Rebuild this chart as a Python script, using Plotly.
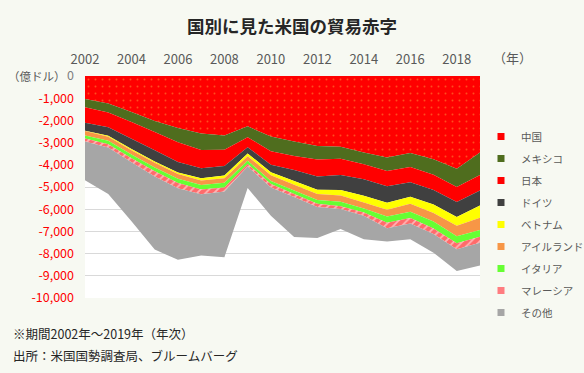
import plotly.graph_objects as go

years = list(range(2002, 2020))
names = ["中国", "メキシコ", "日本", "ドイツ", "ベトナム", "アイルランド", "イタリア", "マレーシア", "その他"]

china = [-1031, -1240, -1620, -2022, -2343, -2586, -2680, -2268, -2730, -2951, -3151, -3186, -3450, -3672, -3468, -3752, -4182, -3450]
mexico = [-374, -405, -455, -498, -645, -745, -645, -490, -663, -649, -614, -545, -530, -605, -631, -700, -815, -1014]
japan = [-700, -660, -753, -826, -881, -826, -726, -447, -603, -630, -763, -734, -671, -688, -689, -688, -676, -694]
germany = [-356, -390, -460, -508, -476, -447, -430, -282, -341, -503, -593, -674, -742, -748, -649, -644, -683, -672]
vietnam = [-21, -39, -52, -58, -75, -104, -125, -124, -129, -161, -197, -239, -300, -309, -320, -384, -395, -557]
ireland = [-194, -186, -196, -207, -213, -206, -200, -206, -260, -269, -268, -281, -270, -310, -360, -381, -467, -553]
italy = [-139, -151, -172, -175, -184, -204, -212, -145, -142, -156, -172, -207, -188, -283, -284, -318, -318, -301]
malaysia = [-138, -147, -178, -233, -240, -214, -180, -120, -149, -135, -139, -121, -142, -245, -247, -246, -265, -267]
others = [-1747, -2102, -2654, -3293, -3223, -2758, -2962, -958, -1283, -1796, -1403, -903, -1057, -590, -702, -847, -979, -1032]

series = [china, mexico, japan, germany, vietnam, ireland, italy, malaysia, others]
colors = ["#ff0000", "#4f6d1e", "#ff0000", "#404040", "#ffff00", "#f79646", "#66ff33", "#ff7c80", "#a6a6a6"]
patterns = {
    0: dict(shape=".", bgcolor="#ff0000", fgcolor="#ff9a3c", size=7, solidity=0.06),
    7: dict(shape="/", bgcolor="#ff6b6b", fgcolor="#ffffff", size=6, solidity=0.3),
}

y_ticks = list(range(0, -10001, -1000))
y_ticktext = ["<span style='color:#7f7f7f'>0</span>"] + [f"{v:,}" for v in y_ticks[1:]]
x_ticks = list(range(2002, 2019, 2))

FONT = "Noto Sans CJK JP"
L, R, T, B = 85, 480, 76, 298
W, H = 584, 373

fig = go.Figure()
for i, (n, s, c) in enumerate(zip(names, series, colors)):
    kw = {}
    if i in patterns:
        kw["fillpattern"] = patterns[i]
    fig.add_trace(go.Scatter(
        x=years, y=s, name=n, mode="none", stackgroup="one",
        fillcolor=c, showlegend=False, hoverinfo="skip", **kw))

for i, (n, c) in enumerate(zip(names, colors)):
    fig.add_trace(go.Scatter(
        x=[None], y=[None], name=n, mode="markers",
        marker=dict(symbol="square", size=7, color=c,
                    line=dict(width=0)),
        legendgroup=f"g{i}", showlegend=True))

def px(x):
    return (x - L) / (R - L)

def py(y):
    return (B - y) / (B - T)

fig.update_layout(
    width=W, height=H,
    margin=dict(l=L, r=W - R, t=T, b=H - B, autoexpand=False),
    paper_bgcolor="#f7f9f2",
    plot_bgcolor="#ffffff",
    font=dict(family=FONT, color="#595959", size=12),
    title=dict(text="<b>国別に見た米国の貿易赤字</b>", x=0.5, xanchor="center",
               y=1 - 27 / H, yanchor="middle", yref="container",
               font=dict(size=17.5, color="#262626", family=FONT)),
    xaxis=dict(range=[2002, 2019], side="top", tickvals=x_ticks,
               showgrid=False, zeroline=False, showline=False, ticks="",
               automargin=False, ticklabelstandoff=8,
               tickfont=dict(size=13, color="#595959")),
    yaxis=dict(range=[-10000, 0], tickvals=y_ticks, ticktext=y_ticktext,
               showgrid=True, gridcolor="#d9d9d9", gridwidth=1,
               zeroline=False, showline=False, ticks="",
               automargin=False, ticklabelstandoff=10,
               tickfont=dict(size=12.5, color="#ff0000")),
    showlegend=True,
    legend=dict(x=px(481), xanchor="left", y=py(122), yanchor="top",
                traceorder="grouped", tracegroupgap=3,
                bgcolor="rgba(0,0,0,0)", font=dict(size=10.5, color="#595959"),
                itemwidth=30),
    annotations=[
        dict(text="（億ドル）", x=px(6), y=py(76), xref="paper", yref="paper",
             xanchor="left", yanchor="middle", showarrow=False,
             font=dict(size=11.5, color="#595959")),
        dict(text="（年）", x=px(512), y=py(58), xref="paper", yref="paper",
             xanchor="center", yanchor="middle", showarrow=False,
             font=dict(size=13, color="#595959")),
        dict(text="※期間2002年～2019年（年次）", x=px(11), y=py(333), xref="paper", yref="paper",
             xanchor="left", yanchor="middle", showarrow=False,
             font=dict(size=12.5, color="#262626")),
        dict(text="出所：米国国勢調査局、ブルームバーグ", x=px(11), y=py(355), xref="paper", yref="paper",
             xanchor="left", yanchor="middle", showarrow=False,
             font=dict(size=12.5, color="#262626")),
    ],
)

fig.write_html("out.html", config={"displayModeBar": False},
               post_script="document.body.style.margin='0';document.body.style.padding='0';document.documentElement.style.overflow='hidden';")
